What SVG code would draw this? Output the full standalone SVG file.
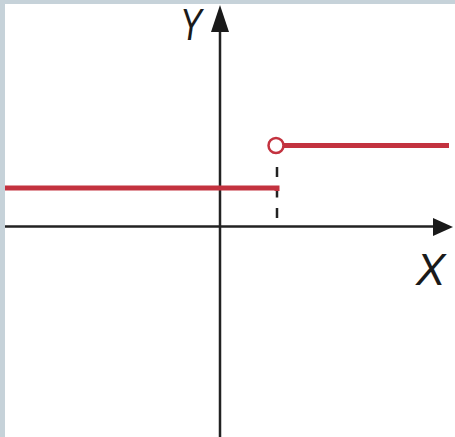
<svg xmlns="http://www.w3.org/2000/svg" width="455" height="437" viewBox="0 0 455 437">
<style>
.axis{stroke:#222;stroke-width:2.5;fill:none}
.head{fill:#1a1a1a}
.red{stroke:#c3323f;stroke-width:5;fill:none}
.lbl{font-family:"Liberation Sans",Arial,sans-serif;font-style:italic;font-size:44px;fill:#1a1a1a}
</style>
<rect x="0" y="0" width="455" height="437" fill="#ffffff"/>
<rect x="0" y="0" width="455" height="4" fill="#c6d2d9"/>
<rect x="0" y="0" width="5" height="437" fill="#c6d2d9"/>
<g id="connectors">
<line class="axis" x1="220" y1="437" x2="220" y2="28"/>
<polygon class="head" points="220,5 229,32 211,32"/>
<line class="axis" x1="5" y1="226.5" x2="436" y2="226.5"/>
<polygon class="head" points="453,227 433,218 433,236"/>
<line x1="277" y1="167" x2="277" y2="220" stroke="#222" stroke-width="2.5" stroke-dasharray="10 10.5"/>
</g>
<g id="graph">
<path class="red" d="M5,188 H277 V191"/>
<line class="red" x1="284" y1="145.5" x2="449" y2="145.5"/>
<circle cx="276" cy="145.5" r="7.5" fill="#ffffff" stroke="#c3323f" stroke-width="2.5"/>
</g>
<g id="labels">
<text class="lbl" transform="translate(180,40) scale(0.75,1)">Y</text>
<text class="lbl" x="416" y="285">X</text>
</g>
</svg>
